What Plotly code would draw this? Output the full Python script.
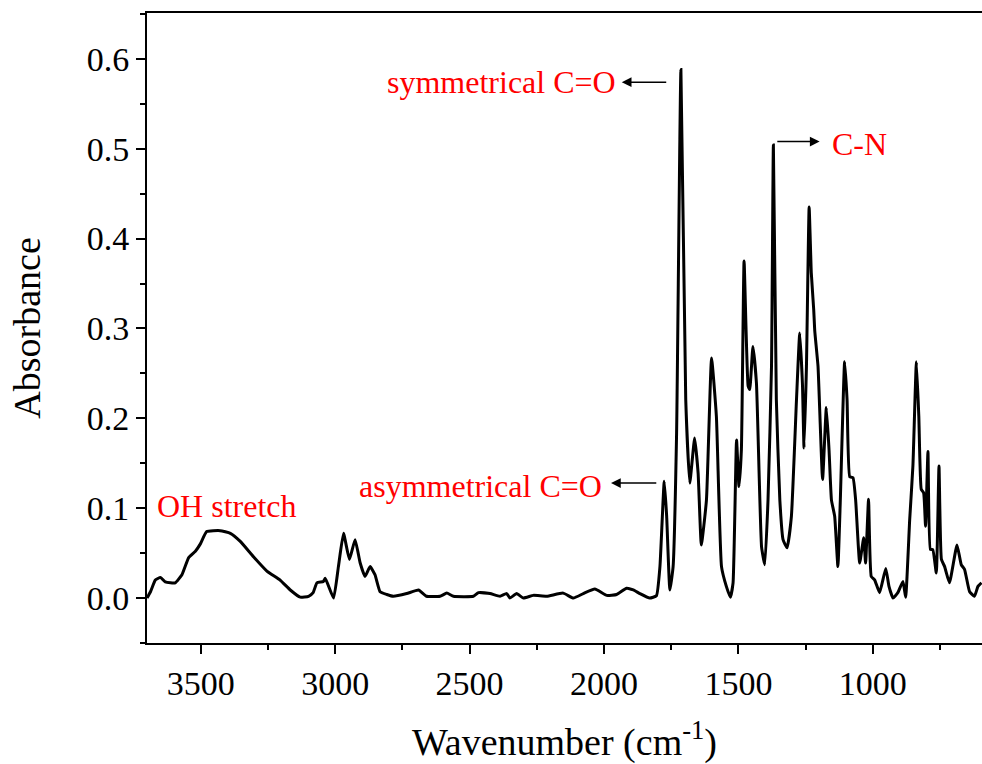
import plotly.graph_objects as go

# Wavenumber (cm-1) and absorbance
wavenumber = [3700, 3687, 3669, 3650, 3632, 3613, 3595, 3570, 3545, 3520, 3502, 3478, 3428, 3390,
              3353, 3304, 3254, 3205, 3167, 3130, 3099, 3082, 3068, 3044, 3037, 3006, 2988, 2969,
              2947, 2926, 2907, 2889, 2870, 2852, 2833, 2808, 2784, 2734, 2690, 2660, 2610, 2585,
              2560, 2486, 2467, 2424, 2387, 2362, 2350, 2325, 2300, 2263, 2213, 2152, 2114, 2077,
              2034, 1990, 1953, 1916, 1891, 1867, 1830, 1805, 1792, 1776, 1767, 1755, 1743, 1730,
              1714, 1696, 1681, 1663, 1650, 1638, 1619, 1600, 1582, 1563, 1545, 1530, 1520, 1507,
              1498, 1489, 1479, 1464, 1458, 1446, 1433, 1414, 1402, 1390, 1377, 1370, 1359, 1346,
              1334, 1319, 1303, 1284, 1272, 1262, 1256, 1247, 1237, 1229, 1220, 1216, 1204, 1187,
              1173, 1163, 1154, 1142, 1130, 1121, 1105, 1096, 1086, 1074, 1064, 1049, 1034, 1027,
              1016, 1006, 993, 975, 952, 940, 925, 907, 888, 878, 863, 851, 838, 829, 820, 811,
              804, 795, 786, 777, 764, 754, 745, 733, 715, 687, 671, 659, 640, 622, 609, 596]
absorbance = [0.000, 0.007, 0.020, 0.023, 0.018, 0.017, 0.017, 0.026, 0.045, 0.052, 0.060, 0.074, 0.075, 0.072,
              0.063, 0.046, 0.030, 0.020, 0.009, 0.001, 0.002, 0.006, 0.017, 0.0185, 0.022, 0.000, 0.035, 0.072,
              0.043, 0.065, 0.039, 0.024, 0.035, 0.026, 0.007, 0.004, 0.002, 0.005, 0.009, 0.002, 0.002, 0.0055,
              0.002, 0.002, 0.006, 0.005, 0.002, 0.005, 0.000, 0.005, 0.000, 0.003, 0.002, 0.0055, 0.000, 0.005,
              0.010, 0.003, 0.004, 0.011, 0.009, 0.005, 0.000, 0.0026, 0.035, 0.130, 0.091, 0.009, 0.035, 0.184,
              0.588, 0.221, 0.128, 0.178, 0.139, 0.059, 0.109, 0.267, 0.202, 0.035, 0.013, 0.001, 0.017, 0.176,
              0.124, 0.165, 0.375, 0.236, 0.232, 0.280, 0.239, 0.057, 0.037, 0.109, 0.258, 0.504, 0.221, 0.109,
              0.065, 0.056, 0.091, 0.221, 0.295, 0.239, 0.167, 0.258, 0.435, 0.362, 0.321, 0.297, 0.258, 0.132,
              0.212, 0.165, 0.109, 0.091, 0.035, 0.109, 0.263, 0.221, 0.135, 0.134, 0.109, 0.039, 0.067, 0.039,
              0.110, 0.024, 0.020, 0.006, 0.033, 0.013, 0.000, 0.006, 0.0185, 0.001, 0.087, 0.147, 0.263, 0.202, 0.121, 0.117,
              0.080, 0.163, 0.054, 0.054, 0.028, 0.147, 0.043, 0.035, 0.017, 0.059, 0.037, 0.032, 0.007, 0.002, 0.013, 0.017]

x_range = [3700, 594]
y_range = [-0.05, 0.651]
x_ticks = [3500, 3000, 2500, 2000, 1500, 1000]
y_ticks = [0.0, 0.1, 0.2, 0.3, 0.4, 0.5, 0.6]

FONT = "Liberation Serif, Times New Roman, serif"
RED = "#ff0000"

fig = go.Figure()
fig.add_trace(go.Scatter(x=wavenumber, y=absorbance, mode="lines",
                         line=dict(color="black", width=3, shape="spline", smoothing=0.4),
                         hoverinfo="skip", showlegend=False))

fig.update_layout(
    width=982, height=764,
    margin=dict(l=147, r=0, t=13, b=121),
    paper_bgcolor="white", plot_bgcolor="white",
    font=dict(family=FONT, color="black", size=34),
    showlegend=False,
)
fig.update_xaxes(
    range=x_range, autorange=False, tickvals=x_ticks, ticktext=[str(v) for v in x_ticks],
    showgrid=False, zeroline=False, showline=True, linecolor="black", linewidth=2, mirror=True,
    ticks="outside", ticklen=9, tickwidth=2, tickcolor="black",
    minor=dict(dtick=250, tick0=0, ticks="outside", ticklen=5, tickwidth=2, tickcolor="black"),
    tickfont=dict(size=34, family=FONT),
    title=dict(text="Wavenumber (cm<sup>-1</sup>)", font=dict(size=38, family=FONT), standoff=30),
)
fig.update_yaxes(
    range=y_range, autorange=False, tickvals=y_ticks, ticktext=[f"{v:.1f}" for v in y_ticks],
    showgrid=False, zeroline=False, showline=True, linecolor="black", linewidth=2, mirror=False,
    ticks="outside", ticklen=9, tickwidth=2, tickcolor="black",
    minor=dict(dtick=0.05, tick0=0, ticks="outside", ticklen=5, tickwidth=2, tickcolor="black"),
    tickfont=dict(size=34, family=FONT),
    title=dict(text="Absorbance", font=dict(size=38, family=FONT), standoff=34),
)

# Peak labels and arrows
labels = [
    dict(text="symmetrical C=O", x=1949, y=0.574, xanchor="right"),
    dict(text="C-N", x=1161, y=0.505, xanchor="left"),
    dict(text="asymmetrical C=O", x=2000, y=0.125, xanchor="right"),
    dict(text="OH stretch", x=3669, y=0.102, xanchor="left"),
]
for lab in labels:
    fig.add_annotation(x=lab["x"], y=lab["y"], xref="x", yref="y", text=lab["text"],
                       xanchor=lab["xanchor"], yanchor="middle", showarrow=False,
                       font=dict(color=RED, size=32, family=FONT))

arrows = [  # (head_x, tail_x, y)
    (1934, 1763, 0.574),
    (1198, 1361, 0.508),
    (1974, 1800, 0.128),
]
for hx, tx, yy in arrows:
    fig.add_annotation(x=hx, y=yy, ax=tx, ay=yy, xref="x", yref="y", axref="x", ayref="y",
                       text="", showarrow=True, arrowhead=2, arrowsize=1.3, arrowwidth=1.5,
                       arrowcolor="black")

fig.write_html("out.html")
